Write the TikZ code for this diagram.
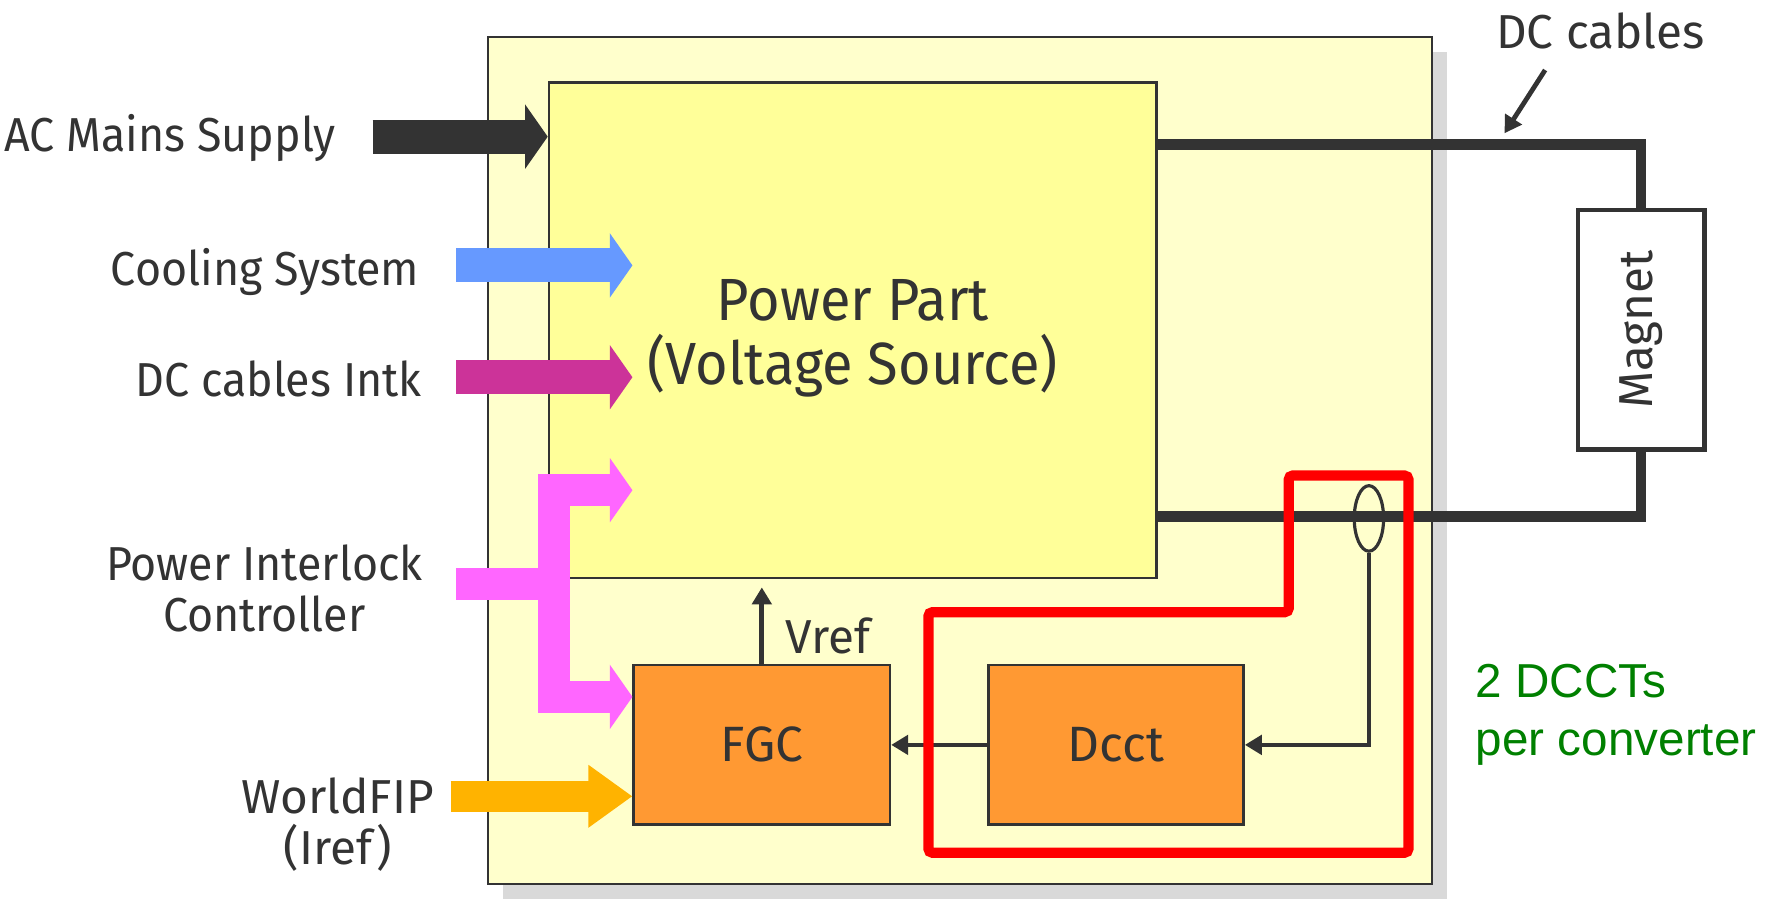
\documentclass[tikz,border=0pt]{standalone}
\usepackage{fontspec}
\setmainfont{Fira Sans}
\newfontfamily\narrowfont[FakeStretch = 0.94]{Fira Sans}
\newfontfamily\arialfont{Liberation Sans}
\usetikzlibrary{arrows.meta,shapes.geometric,positioning}

\definecolor{inkgray}{HTML}{333333}
\definecolor{shadowgray}{HTML}{D9D9D9}
\definecolor{boardyellow}{HTML}{FFFFCC}
\definecolor{powyellow}{HTML}{FFFF99}
\definecolor{fgcorange}{HTML}{FF9933}
\definecolor{coolblue}{HTML}{6699FF}
\definecolor{intkmagenta}{HTML}{CC3399}
\definecolor{ilkpink}{HTML}{FF66FF}
\definecolor{fipamber}{HTML}{FFB300}
\definecolor{dcgreen}{HTML}{008000}

\tikzset{
	lbl/.style = {text = inkgray, inner sep = 0pt, font = \fontsize{12}{12.8}\selectfont},
	inlbl/.style = {lbl, font = \narrowfont\fontsize{12}{12.8}\selectfont},
	unitbox/.style = {draw = inkgray, line width = 0.6pt, text = inkgray},
	bigarrow/.style = {line width = 0.30cm, -{Triangle[length = 0.2cm, width = 0.56cm]}},
	sig/.style = {draw = inkgray, line width = 1.2pt, -{Triangle[length = 0.15cm, width = 0.17cm]}},
	cable/.style = {draw = inkgray, line width = 2.7pt},
}

\begin{document}
\begin{tikzpicture}
\useasboundingbox (0,0) rectangle (15.68,7.96);
% converter cabinet and its shadow
\fill[shadowgray] (4.45,0) rectangle (12.81,7.50);
\filldraw[fill = boardyellow, draw = inkgray, line width = 0.5pt] (4.32,0.13) rectangle (12.68,7.63);

\node[unitbox, fill = powyellow, minimum width = 5.38cm, minimum height = 4.39cm] (power) at (7.55,5.035) {};
\node[lbl, align = center, font = \narrowfont\fontsize{15}{16.2}\selectfont] (powerlbl) at ([yshift = -0.07cm]power.center) {Power Part\\(Voltage Source)};
\node[unitbox, fill = fgcorange, minimum width = 2.27cm, minimum height = 1.41cm, font = \fontsize{12.5}{14}\selectfont] (fgc) at (6.745,1.365) {FGC};
\node[unitbox, fill = fgcorange, minimum width = 2.26cm, minimum height = 1.41cm, font = \fontsize{12.5}{14}\selectfont, right = 0.85cm of fgc] (dcct) {Dcct};

% load
\node[draw = inkgray, line width = 1.2pt, fill = white, minimum width = 1.12cm, minimum height = 2.12cm] (magnet) at (14.53,5.04) {};
\node[lbl, rotate = 90] (magnetlbl) at (magnet) {Magnet};

\draw[cable] ([yshift = -0.56cm]power.north east) -| (magnet.north);
\draw[cable] ([yshift = 0.56cm]power.south east) -| (magnet.south);
\node[draw = inkgray, line width = 0.8pt, ellipse, minimum width = 0.26cm, minimum height = 0.58cm, inner sep = 0pt] (sensor) at (12.12,3.37) {};

\node[lbl, anchor = base] (dclbl) at (14.17,7.53) {DC cables};
\coordinate (dctail) at (13.68,7.34);
\coordinate (dchead) at (13.32,6.78);
\draw[sig] (dctail) -- (dchead);

% inputs
\node[inlbl, anchor = base east] (aclbl) at (2.98,6.62) {AC Mains Supply};
\node[inlbl, anchor = base east] (coollbl) at (3.72,5.43) {Cooling System};
\node[inlbl, anchor = base east] (intklbl) at (3.74,4.45) {DC cables Intk};
\node[inlbl, align = center] (ilklbl) at (2.34,2.75) {Power Interlock\\Controller};
\node[lbl, align = center] (fiplbl) at (2.99,0.66) {WorldFIP\\(Iref)};

\coordinate (acin) at (3.30,6.75);
\coordinate (coolin) at (4.04,5.61);
\coordinate (intkin) at (4.04,4.62);
\coordinate (ilkin) at (4.04,2.79);
\coordinate (ilkfork) at (4.905,2.79);
\coordinate (ilktop) at (4.905,3.62);
\coordinate (ilkbot) at (4.905,1.79);
\coordinate (fipin) at (3.99,0.91);

\draw[bigarrow, inkgray] (acin) -- (acin -| power.west);
\foreach \src/\col in {coolin/coolblue, intkin/intkmagenta}
{
	\draw[bigarrow, \col] (\src) -- (\src -| fgc.west);
}
\draw[ilkpink, line width = 0.28cm] (ilkin) -- (ilkfork);
\draw[ilkpink, line width = 0.29cm, line cap = rect] (ilktop) -- (ilkbot);
\foreach \src in {ilktop, ilkbot}
{
	\draw[bigarrow, ilkpink, line width = 0.28cm] (\src) -- (\src -| fgc.west);
}
\draw[fipamber, line width = 0.27cm, -{Triangle[length = 0.39cm, width = 0.53cm]}] (fipin) -- (fipin -| fgc.west);

% signals
\draw[sig, shorten > = 0.07cm] (fgc.north) -- (fgc.north |- power.south);
\node[lbl] (vreflbl) at (7.33,2.33) {Vref};
\draw[sig] (dcct.west) -- (fgc.east);
\draw[sig] (sensor.south) |- (dcct.east);

% the two DCCTs
\draw[red, line width = 0.09cm, rounded corners = 1pt] (11.41,3.75) -- (12.47,3.75) -- (12.47,0.41) -- (8.22,0.41) -- (8.22,2.54) -- (11.41,2.54) -- cycle;
\node[text = dcgreen, font = \arialfont\fontsize{12}{14.5}\selectfont, align = left, anchor = west, inner sep = 0pt] (dcctnote) at (13.06,1.63) {2 DCCTs\\per converter};
\end{tikzpicture}
\end{document}
